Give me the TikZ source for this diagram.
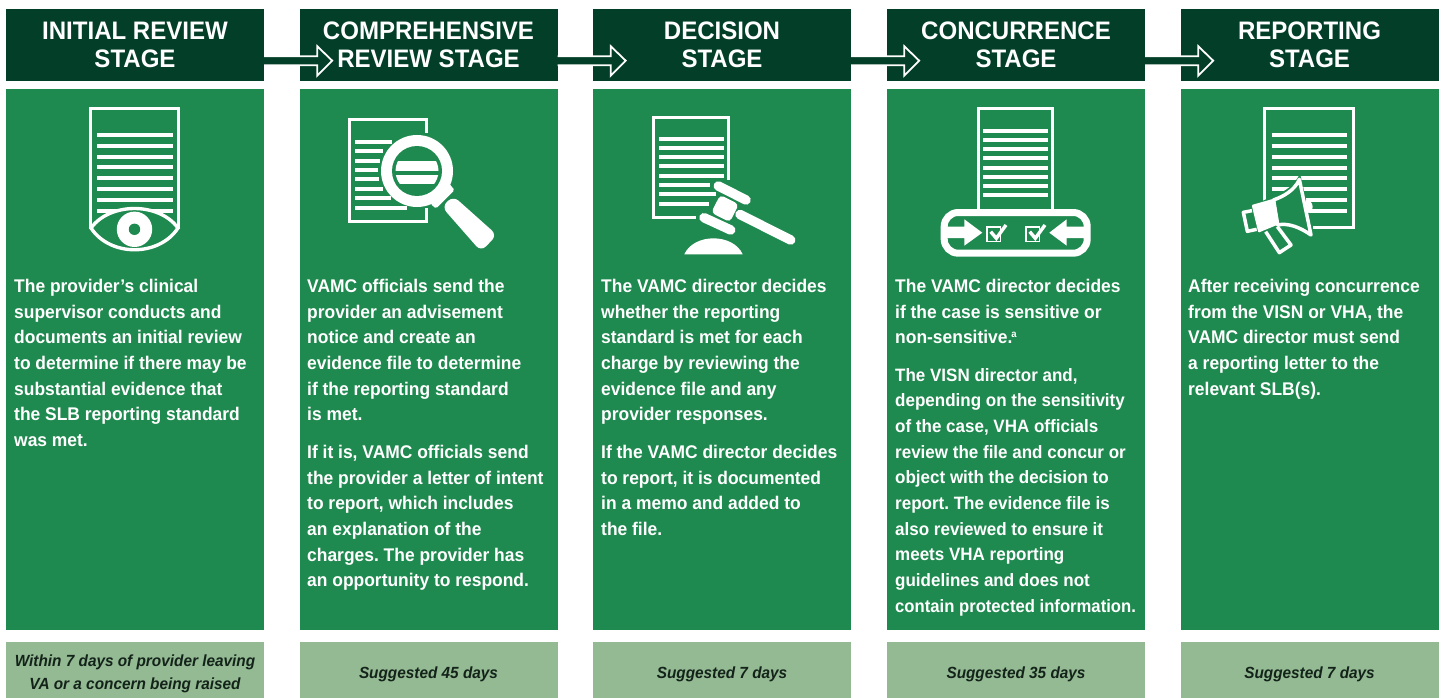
\documentclass[tikz,border=0pt]{standalone}
\usepackage{graphicx}
\usepackage{fontspec}
\setmainfont[FakeStretch=0.95]{Liberation Sans}
\usetikzlibrary{calc}
\definecolor{hdr}{HTML}{033F28}
\definecolor{grn}{HTML}{1F8A4F}
\definecolor{lite}{HTML}{93BA92}
\definecolor{txt}{HTML}{14231A}
\tikzset{
 x=1pt,y=-1pt,
 hdrbox/.style={fill=hdr,text=white,minimum width=258pt,minimum height=72pt,inner sep=0pt,align=center,font=\fontsize{25.3}{28}\selectfont\bfseries},
 bodybox/.style={fill=grn,minimum width=258pt,minimum height=541pt,inner sep=0pt},
 footbox/.style={fill=lite,minimum width=258pt,minimum height=56pt,inner sep=0pt},
 foottext/.style={text=txt,align=center,inner sep=0pt,font=\fontsize{16.15}{23}\selectfont\bfseries\itshape},
 bodytext/.style={text=white,inner sep=0pt,anchor=north west,align=left,font=\frenchspacing\fontsize{18.35}{25.65}\selectfont\bfseries},
 ic/.style={draw=white,line width=3pt,fill=none},
 ln/.style={draw=white,line width=4.2pt},
}
\newcommand{\flowarrow}[1]{%
 \path ($(#1.south east)+(0,-25)$) coordinate (s);
 \fill[hdr] (s) rectangle ++(40,9);
 \draw[white,line width=1.8pt,line join=miter] (s) -- ++(53,0) -- ++(0,-10) -- ++(15,14.5) -- ++(-15,15) -- ++(0,-10.5) -- ++(-53,0);
}
\begin{document}
\begin{tikzpicture}
\useasboundingbox (0,0) rectangle (1443,698);
\fill[white] (0,0) rectangle (1443,698);
\foreach \i/\cx in {1/135,2/428.5,3/722,4/1016,5/1309.5}{
 \node[bodybox] (b\i) at (\cx,359.5) {};
 \node[footbox] (f\i) at (\cx,670) {};
}
\node[hdrbox] (h1) at (135,45) {INITIAL REVIEW\\STAGE};
\node[hdrbox] (h2) at (428.5,45) {COMPREHENSIVE\\REVIEW STAGE};
\node[hdrbox] (h3) at (722,45) {DECISION\\STAGE};
\node[hdrbox] (h4) at (1016,45) {CONCURRENCE\\STAGE};
\node[hdrbox] (h5) at (1309.5,45) {REPORTING\\STAGE};
\flowarrow{h1}\flowarrow{h2}\flowarrow{h3}\flowarrow{h4}
% footers
\node[foottext] (t1) at (135,673.5) {Within 7 days of provider leaving\\VA or a concern being raised};
\node[foottext] (t2) at (428.5,674.5) {Suggested 45 days};
\node[foottext] (t3) at (722,674.5) {Suggested 7 days};
\node[foottext] (t4) at (1016,674.5) {Suggested 35 days};
\node[foottext] (t5) at (1309.5,674.5) {Suggested 7 days};
% body text
\node[bodytext] (p1) at (14,279) {The provider’s clinical\\supervisor conducts and\\documents an initial review\\to determine if there may be\\substantial evidence that\\the SLB reporting standard\\was met.};
\node[bodytext] (p2) at (307,279) {VAMC officials send the\\provider an advisement\\notice and create an\\evidence file to determine\\if the reporting standard\\is met.};
\node[bodytext] (p2b) at (307,445) {If it is, VAMC officials send\\the provider a letter of intent\\to report, which includes\\an explanation of the\\charges. The provider has\\an opportunity to respond.};
\node[bodytext] (p3) at (601,279) {The VAMC director decides\\whether the reporting\\standard is met for each\\charge by reviewing the\\evidence file and any\\provider responses.};
\node[bodytext] (p3b) at (601,445) {If the VAMC director decides\\to report, it is documented\\in a memo and added to\\the file.};
\node[bodytext] (p4) at (895,279) {The VAMC director decides\\if the case is sensitive or\\non-sensitive.\textsuperscript{\kern-1pt\fontsize{10}{10}\selectfont a}};
\node[bodytext,font=\frenchspacing\fontsize{17.9}{25.65}\selectfont\bfseries] (p4b) at (895,368) {The VISN director and,\\depending on the sensitivity\\of the case, VHA officials\\review the file and concur or\\object with the decision to\\report. The evidence file is\\also reviewed to ensure it\\meets VHA reporting\\guidelines and does not\\\scalebox{0.98}[1]{contain protected information.}};
\node[bodytext] (p5) at (1188,279) {After receiving concurrence\\from the VISN or VHA, the\\VAMC director must send\\a reporting letter to the\\relevant SLB(s).};
% icon 1: eye
\draw[ic] (90.5,229) -- (90.5,109) -- (178.5,109) -- (178.5,229);
\foreach \y in {135.3,146,156.7,167.3,178.3,189.3,200.3,211}{\draw[ln] (97,\y) -- (172.7,\y);}
\fill[grn] (91,228) .. controls (110,202) and (159,202) .. (178,228) .. controls (159,257) and (110,257) .. (91,228) -- cycle;
\draw[white,line width=3.4pt] (91,228) .. controls (110,202) and (159,202) .. (178,228) .. controls (159,257) and (110,257) .. (91,228) -- cycle;
\fill[white] (134.5,229.3) circle (17.7);
\fill[grn] (134.5,229.3) circle (5.7);
% icon 2: magnifier
\draw[ic] (426,133) -- (426,119.8) -- (349.8,119.8) -- (349.8,221.8) -- (426,221.8) -- (426,208);
\foreach \y/\xe in {142.3/392,151.3/383,160.7/380,170/378,179.3/379,188.7/383,198.3/391,207.7/407}{\draw[ln,line width=4pt] (355,\y) -- (\xe,\y);}
\fill[white] (417,171) circle (36);
\fill[grn] (417,171) circle (25);
\begin{scope}
\clip (417,171) circle (21.5);
\fill[white] (390,161) rectangle (445,171);
\fill[white] (390,175) rectangle (445,184.3);
\end{scope}
\fill[white,rounded corners=1.5pt] (449.5,184) -- (454.5,190) -- (436,208.5) -- (430.5,204) -- cycle;
\fill[white,rounded corners=7pt] (441.7,206.7) -- (453.3,196) -- (497,235) -- (481,251.5) -- cycle;
% icon 3: gavel
\draw[ic] (695.7,217.5) -- (653.8,217.5) -- (653.8,117.2) -- (728.5,117.2) -- (728.5,180);
\foreach \y/\xe in {139.3/723.7,148.3/723.7,157.3/723.7,166.3/723.7,175.7/723.7,185/710,194.3/716,203.7/709.3}{\draw[ln,line width=3.8pt] (659,\y) -- (\xe,\y);}
\fill[white,rounded corners=4pt] (720.2,194.9) -- (738.8,204.3) -- (729.8,222.1) -- (711.2,212.7) -- cycle;
\draw[grn,line width=13pt,line cap=round] (718.3,186) -- (746,200);
\draw[grn,line width=13pt,line cap=round] (704,217.7) -- (730.7,230);
\draw[white,line width=9.5pt,line cap=round] (718.3,186) -- (746,200);
\draw[white,line width=9.5pt,line cap=round] (704,217.7) -- (730.7,230);
\draw[white,line width=9.5pt,line cap=round] (740,214.5) -- (790.7,240);
\fill[white] (684.3,254.3) .. controls (694,233) and (733,233) .. (742.7,254.3) -- cycle;
% icon 4: concurrence
\draw[ic] (978.3,209) -- (978.3,108.8) -- (1052.8,108.8) -- (1052.8,209);
\foreach \y in {130.7,140,149.3,158.3,167.7,177,186,195.3}{\draw[ln,line width=3.8pt] (983.3,\y) -- (1048.3,\y);}
\draw[white,line width=7pt,rounded corners=14pt] (944.2,212.5) rectangle (1087.2,253.2);
\fill[white] (944,226.7) -- (964.3,226.7) -- (964.3,219.3) -- (982.3,232.7) -- (964.3,245.7) -- (964.3,238) -- (944,238) -- cycle;
\fill[white] (1087,226.7) -- (1066.7,226.7) -- (1066.7,219.3) -- (1049.3,232.7) -- (1066.7,245.7) -- (1066.7,238) -- (1087,238) -- cycle;
\draw[white,line width=1.7pt] (986.8,227) rectangle (1000.5,241.5);
\draw[white,line width=1.7pt] (1025.8,227) rectangle (1039.5,241.5);
\draw[white,line width=3.4pt] (990.7,231.7) -- (996.3,238.3) -- (1006,225);
\draw[white,line width=3.4pt] (1029.7,231.7) -- (1035.3,238.3) -- (1045,225);
% icon 5: megaphone
\draw[ic] (1264.8,205) -- (1264.8,108.8) -- (1353.5,108.8) -- (1353.5,227.8) -- (1312.7,227.8);
\foreach \y in {135,145.7,156.7,167.7,178.3,189.3,200,211}{\draw[ln] (1271.7,\y) -- (1347.3,\y);}
\begin{scope}[shift={(1220,90)},x=0.33333pt,y=-0.33333pt]
 \fill[grn] (60,365) -- (165,315) .. controls (195,305) and (225,285) .. (240,250) -- (285,445) .. controls (240,410) and (200,400) .. (178,412) -- (225,465) -- (180,500) -- (130,435) -- (75,435) -- cycle;
 \fill[white] (258,330) arc (-90:90:20 and 20) -- cycle;
 \draw[white,line width=3.5pt,line join=round,fill=grn] (160,330) .. controls (190,320) and (225,300) .. (238,268) -- (273,435) .. controls (240,412) and (205,398) .. (172,405) -- cycle;
 \fill[white,rounded corners=1pt] (95,345) -- (165,325) -- (178,402) -- (115,428) -- cycle;
 \draw[white,line width=3.5pt,line join=round] (96,362) -- (70,367) -- (82,424) -- (110,418);
 \draw[white,line width=3.5pt,line join=round] (137,425) -- (178,488) -- (213,465) -- (172,410);
\end{scope}
\end{tikzpicture}
\end{document}
